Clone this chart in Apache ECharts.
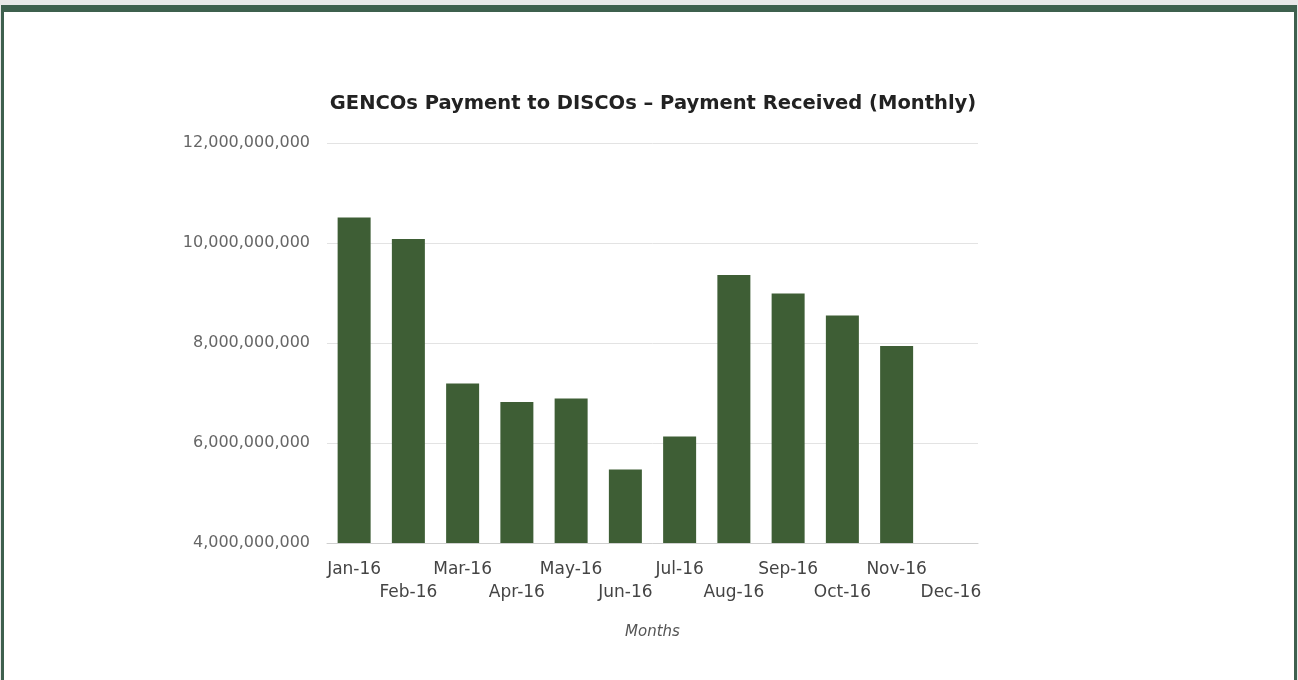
<!DOCTYPE html>
<html>
<head>
<meta charset="utf-8">
<script src="https://cdn.jsdelivr.net/npm/echarts@6/dist/echarts.min.js"></script>
<style>
  html, body { margin: 0; padding: 0; background: #e8e8e8; }
  .frame {
    position: absolute; left: 1px; top: 5px; width: 1290px; height: 700px;
    border: solid #3e604e; border-width: 7px 3px 0 3px; background: #fff;
  }
  #chart { position: absolute; left: 0; top: 0; width: 1298px; height: 680px; }
</style>
</head>
<body>
<div class="frame"></div>
<div id="chart"></div>
<script>
// monthly payment received (NGN)
const months = ['Jan-16', 'Feb-16', 'Mar-16', 'Apr-16', 'May-16', 'Jun-16',
  'Jul-16', 'Aug-16', 'Sep-16', 'Oct-16', 'Nov-16', 'Dec-16']
const received = [10510000000, 10080000000, 7190000000, 6820000000, 6890000000, 5470000000,
  6130000000, 9360000000, 8990000000, 8550000000, 7940000000, null]
const yTicks = [4000000000, 6000000000, 8000000000, 10000000000, 12000000000]

const chart = echarts.init(document.getElementById('chart'))
chart.setOption({
  animation: false,
  title: {
    text: 'GENCOs Payment to DISCOs \u2013 Payment Received (Monthly)',
    left: 648,
    top: 89,
    textAlign: 'center',
    textStyle: { fontFamily: 'DejaVu Sans', fontWeight: 'bold', fontSize: 19.5, color: '#222' },
  },
  grid: { left: 327, right: 320, top: 143, bottom: 137 },
  xAxis: {
    type: 'category',
    data: months,
    name: 'Months',
    nameLocation: 'middle',
    nameGap: 82,
    nameTextStyle: { fontFamily: 'DejaVu Sans', fontStyle: 'italic', fontSize: 15, color: '#555' },
    axisLine: { lineStyle: { color: '#cfcfcf' } },
    axisTick: { show: false },
    axisLabel: {
      interval: 0,
      margin: 15,
      fontFamily: 'DejaVu Sans',
      fontSize: 17,
      lineHeight: 23,
      color: '#444',
      formatter: (v, i) => (i % 2 ? '\n' + v : v),
    },
  },
  yAxis: {
    type: 'value',
    min: yTicks[0],
    max: yTicks[yTicks.length - 1],
    interval: yTicks[1] - yTicks[0],
    axisLine: { show: false },
    axisTick: { show: false },
    splitLine: { lineStyle: { color: '#e3e3e3' } },
    axisLabel: {
      margin: 17,
      fontFamily: 'DejaVu Sans',
      fontSize: 16,
      color: '#666',
      formatter: v => v.toLocaleString('en-US'),
    },
  },
  series: [
    {
      type: 'bar',
      data: received,
      barWidth: 33,
      itemStyle: { color: '#3e5e35' },
    },
  ],
})
</script>
</body>
</html>
